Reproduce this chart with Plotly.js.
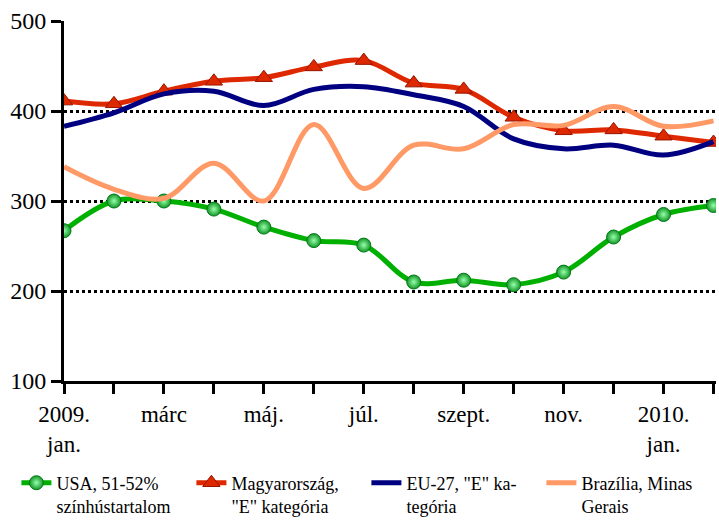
<!DOCTYPE html>
<html>
<head>
<meta charset="utf-8">
<script src="https://cdn.plot.ly/plotly-3.0.1.min.js"></script>
<style>
  #chart svg text { font-family: 'Liberation Serif', serif !important; }
</style>
</head>
<body style="margin:0">
<div id="chart" style="width:719px;height:527px"></div>
<script>
// months 2009 jan .. 2010 feb, label every second one
const months = ['2009.<br>jan.', '', 'márc', '', 'máj.', '', 'júl.', '', 'szept.', '', 'nov.', '', '2010.<br>jan.', ''];

const usa = [267, 300, 300, 291, 271, 256, 251, 210, 212, 207, 221, 260, 285, 295];
const hungary = [411, 408, 422, 433, 437, 449, 456, 431, 424, 393, 378, 379, 372, 365];
const eu27 = [383, 398, 419, 422, 406, 424, 427, 418, 405, 369, 358, 362, 351, 366];
const brazil = [338, 313, 303, 342, 300, 385, 314, 362, 358, 385, 384, 405, 383, 389];

const seriesNames = [
  'USA, 51-52%<br>színhústartalom',
  'Magyarország,<br>"E" kategória',
  'EU-27, "E" ka-<br>tegória',
  'Brazília, Minas<br>Gerais'
];

const xs = months.map((m, i) => i);
const serif = 'Liberation Serif';

const traces = [
  {
    x: xs, y: usa, name: seriesNames[0], type: 'scatter', mode: 'lines+markers',
    line: { color: 'rgb(0,176,0)', width: 5, shape: 'spline', smoothing: 1 },
    marker: { symbol: 'circle', size: 14, color: 'rgb(20,150,40)',
      gradient: { type: 'radial', color: 'rgb(150,255,170)' },
      line: { color: 'rgb(0,120,20)', width: 1 } }
  },
  {
    x: xs, y: hungary, name: seriesNames[1], type: 'scatter', mode: 'lines+markers',
    line: { color: 'rgb(222,40,0)', width: 5, shape: 'spline', smoothing: 1 },
    marker: { symbol: 'triangle-up', size: 15, color: 'rgb(222,40,0)',
      line: { color: 'rgb(150,20,0)', width: 1 } }
  },
  {
    x: xs, y: eu27, name: seriesNames[2], type: 'scatter', mode: 'lines',
    line: { color: 'rgb(0,0,128)', width: 5, shape: 'spline', smoothing: 1 }
  },
  {
    x: xs, y: brazil, name: seriesNames[3], type: 'scatter', mode: 'lines',
    line: { color: 'rgb(255,153,102)', width: 5, shape: 'spline', smoothing: 1 }
  }
];

const layout = {
  width: 719,
  height: 527,
  margin: { l: 64, r: 3, t: 21, b: 140 },
  font: { family: serif },
  showlegend: true,
  legend: {
    orientation: 'h',
    x: -0.073, xanchor: 'left',
    y: -0.232, yanchor: 'top',
    valign: 'top',
    entrywidth: 130,
    font: { family: serif, size: 18, color: 'black' },
    traceorder: 'normal'
  },
  xaxis: {
    range: [0, 13.05],
    tickvals: xs,
    ticktext: months,
    tickfont: { family: serif, size: 23, color: 'black' },
    ticks: 'outside', ticklen: 10, tickwidth: 3, tickcolor: 'black',
    showline: true, linecolor: 'black', linewidth: 3,
    showgrid: false, zeroline: false
  },
  yaxis: {
    range: [100, 500],
    tickvals: [100, 200, 300, 400, 500],
    tickfont: { family: serif, size: 24, color: 'black' },
    ticks: 'outside', ticklen: 10, tickwidth: 3, tickcolor: 'black',
    showline: true, linecolor: 'black', linewidth: 3,
    showgrid: true, gridcolor: 'black', gridwidth: 3, griddash: 'dot',
    zeroline: false
  }
};

function draw() {
  Plotly.newPlot('chart', traces, layout, { displayModeBar: false });
}
draw();
if (document.fonts && document.fonts.load) {
  document.fonts.load('24px "Liberation Serif"').then(draw);
}
</script>
</body>
</html>
